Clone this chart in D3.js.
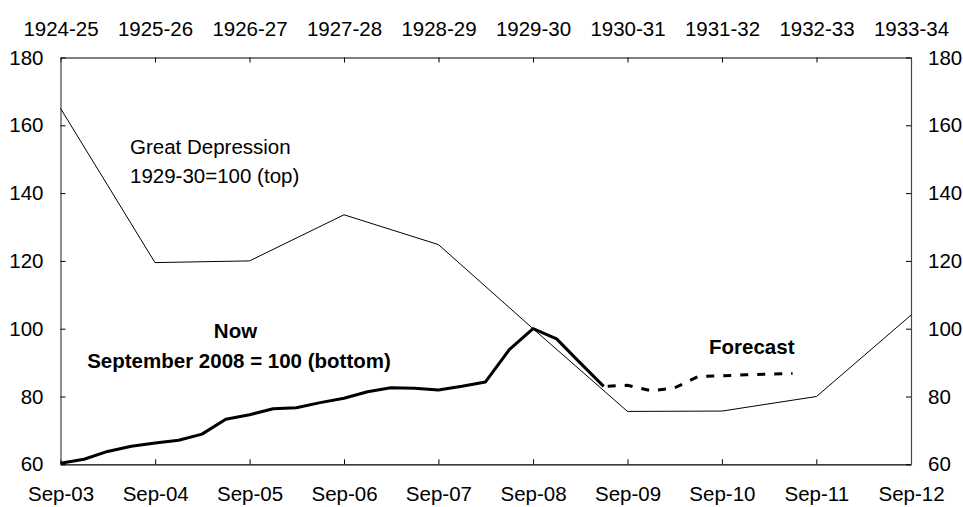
<!DOCTYPE html>
<html lang="en">
<head>
  <meta charset="UTF-8">
  <title>Great Depression vs Now</title>
  <script src="https://d3js.org/d3.v7.min.js"></script>
  <style>
    body {
      margin: 0;
      background: #fff;
      font-family: "Liberation Sans", Arial, sans-serif;
    }
    .axis text {
      font-family: "Liberation Sans", Arial, sans-serif;
      font-size: 20.5px;
      fill: #000;
    }
    .note {
      font-family: "Liberation Sans", Arial, sans-serif;
      font-size: 20.5px;
      fill: #000;
    }
  </style>
</head>
<body>
<div id="chart"></div>

<script>
// Top axis: Great Depression years (1929-30 = 100)
var depressionYears = ["1924-25", "1925-26", "1926-27", "1927-28", "1928-29",
                       "1929-30", "1930-31", "1931-32", "1932-33", "1933-34"];
var depressionValues = [165, 119.5, 120, 133.6, 124.8, 100, 75.6, 75.7, 80, 104];

// Bottom axis: quarterly, September 2008 = 100
var nowQuarters = ["2003-09", "2003-12", "2004-03", "2004-06", "2004-09", "2004-12",
                   "2005-03", "2005-06", "2005-09", "2005-12", "2006-03", "2006-06",
                   "2006-09", "2006-12", "2007-03", "2007-06", "2007-09", "2007-12",
                   "2008-03", "2008-06", "2008-09", "2008-12", "2009-03", "2009-06"];
var nowValues = [60.3, 61.5, 63.8, 65.3, 66.3, 67.1,
                 68.9, 73.3, 74.6, 76.4, 76.7, 78.2,
                 79.5, 81.4, 82.6, 82.4, 81.9, 83.0,
                 84.3, 93.8, 100, 97.0, 90.0, 83.0];

var forecastQuarters = ["2009-06", "2009-09", "2009-12", "2010-03", "2010-06",
                        "2010-09", "2010-12", "2011-03", "2011-06"];
var forecastValues = [83.0, 83.3, 81.7, 82.5, 85.9, 86.1, 86.4, 86.6, 86.8];

var yTicks = [60, 80, 100, 120, 140, 160, 180];
var bottomTicks = ["2003-09", "2004-09", "2005-09", "2006-09", "2007-09",
                   "2008-09", "2009-09", "2010-09", "2011-09", "2012-09"];

var width = 963, height = 507;
var margin = { top: 57.5, right: 52, bottom: 42.7, left: 60.5 };
var w = width - margin.left - margin.right;
var h = height - margin.top - margin.bottom;

var parse = d3.timeParse("%Y-%m");
var fmt = d3.timeFormat("%b-%y");

var svg = d3.select("#chart").append("svg")
    .attr("width", width)
    .attr("height", height);

var g = svg.append("g")
    .attr("transform", "translate(" + margin.left + "," + margin.top + ")");

var x = d3.scaleTime()
    .domain([parse("2003-09"), parse("2012-09")])
    .range([0, w]);

var xTop = d3.scalePoint()
    .domain(depressionYears)
    .range([0, w]);

var y = d3.scaleLinear()
    .domain([60, 180])
    .range([h, 0]);

// axes (ticks point inward)
var bottomAxis = g.append("g")
    .attr("class", "axis")
    .attr("transform", "translate(0," + h + ")")
    .call(d3.axisBottom(x)
      .tickValues(bottomTicks.map(parse))
      .tickFormat(fmt)
      .tickSizeInner(-5).tickSizeOuter(0).tickPadding(22));

var topAxis = g.append("g")
    .attr("class", "axis")
    .call(d3.axisTop(xTop)
      .tickSizeInner(-5).tickSizeOuter(0).tickPadding(22));

var leftAxis = g.append("g")
    .attr("class", "axis")
    .call(d3.axisLeft(y)
      .tickValues(yTicks)
      .tickSizeInner(-5).tickSizeOuter(0).tickPadding(17));

var rightAxis = g.append("g")
    .attr("class", "axis")
    .attr("transform", "translate(" + w + ",0)")
    .call(d3.axisRight(y)
      .tickValues(yTicks)
      .tickSizeInner(-5).tickSizeOuter(0).tickPadding(17));

svg.selectAll(".axis path").attr("stroke", "#000").attr("stroke-width", 1.2);
svg.selectAll(".axis line").attr("stroke", "#000").attr("stroke-width", 1);
leftAxis.select("path").attr("stroke", "#444");
rightAxis.select("path").attr("stroke", "#444");

// Great Depression line (thin)
var depLine = d3.line()
    .x(function(d, i) { return xTop(depressionYears[i]); })
    .y(function(d) { return y(d); });

g.append("path")
    .datum(depressionValues)
    .attr("fill", "none")
    .attr("stroke", "#000")
    .attr("stroke-width", 1)
    .attr("d", depLine);

// Now line (thick)
var nowLine = d3.line()
    .x(function(d) { return x(parse(d.q)); })
    .y(function(d) { return y(d.v); });

var nowData = nowQuarters.map(function(q, i) { return { q: q, v: nowValues[i] }; });
var fcData = forecastQuarters.map(function(q, i) { return { q: q, v: forecastValues[i] }; });

g.append("path")
    .datum(nowData)
    .attr("fill", "none")
    .attr("stroke", "#000")
    .attr("stroke-width", 3)
    .attr("stroke-linejoin", "round")
    .attr("d", nowLine);

g.append("path")
    .datum(fcData)
    .attr("fill", "none")
    .attr("stroke", "#000")
    .attr("stroke-width", 3)
    .attr("stroke-dasharray", "8,9")
    .attr("stroke-dashoffset", -4)
    .attr("d", nowLine);

// annotations
g.append("text").attr("class", "note")
    .attr("x", 69.5).attr("y", 96.5)
    .text("Great Depression");
g.append("text").attr("class", "note")
    .attr("x", 69.5).attr("y", 125.5)
    .text("1929-30=100 (top)");

g.append("text").attr("class", "note")
    .attr("x", 175).attr("y", 280)
    .attr("text-anchor", "middle")
    .style("font-weight", "bold")
    .text("Now");
g.append("text").attr("class", "note")
    .attr("x", 178.5).attr("y", 310.5)
    .attr("text-anchor", "middle")
    .style("font-weight", "bold")
    .text("September 2008 = 100 (bottom)");

g.append("text").attr("class", "note")
    .attr("x", 648.5).attr("y", 296.5)
    .style("font-weight", "bold")
    .text("Forecast");
</script>

</body>
</html>
